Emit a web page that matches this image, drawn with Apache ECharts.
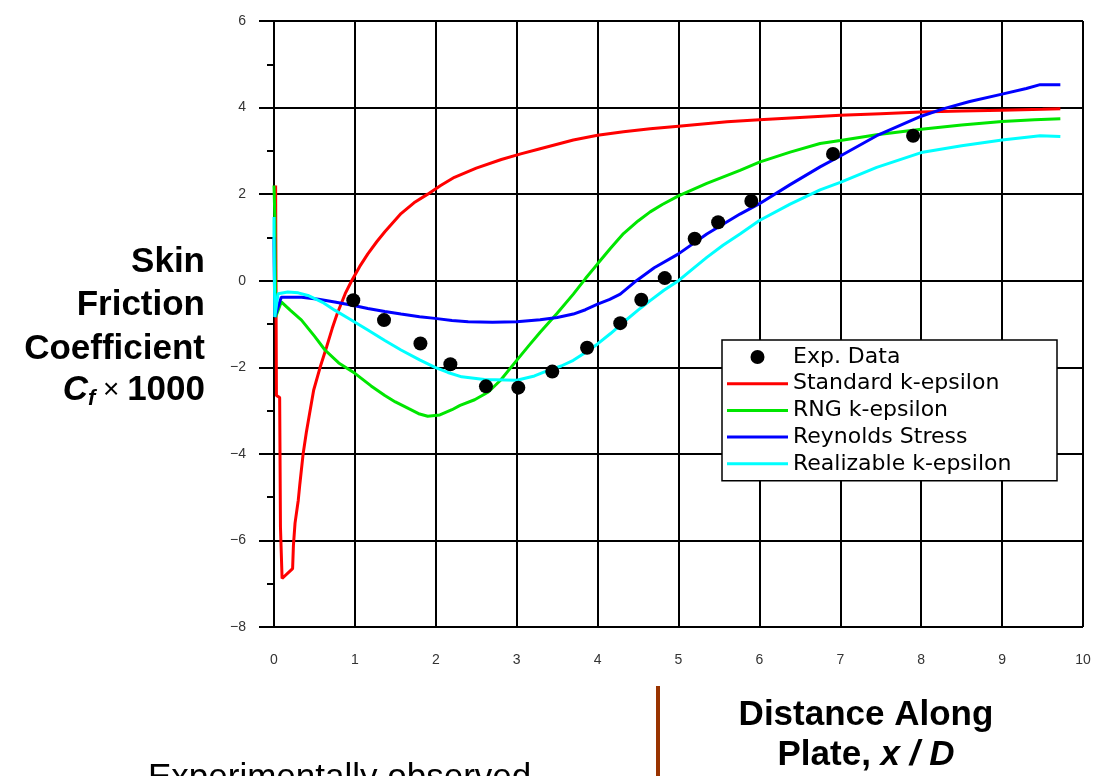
<!DOCTYPE html>
<html><head><meta charset="utf-8">
<script src="https://cdn.jsdelivr.net/npm/echarts@6/dist/echarts.min.js"></script>
<style>html,body{margin:0;padding:0;background:#fff;}#c{width:1094px;height:776px;}</style>
</head><body><div id="c"></div>
<script>
const seriesNames = ['Exp. Data', 'Standard k-epsilon', 'RNG k-epsilon', 'Reynolds Stress', 'Realizable k-epsilon'];
const seriesColors = ['#000000', '#ff0000', '#00e600', '#0000ff', '#00ffff'];
const xRange = [0, 10, 1];
const yRange = [-8, 6, 2];

const expData = [[0.98,-0.45],[1.36,-0.91],[1.81,-1.45],[2.18,-1.93],[2.62,-2.44],[3.02,-2.47],[3.44,-2.1],[3.87,-1.55],[4.28,-0.98],[4.54,-0.44],[4.83,0.06],[5.2,0.97],[5.49,1.35],[5.9,1.84],[6.91,2.93],[7.9,3.35]];

const standardKE = [[0.02,2.2],[0.03,-2.65],[0.07,-2.7],[0.08,-5.7],[0.1,-6.88],[0.23,-6.65],[0.24,-6.12],[0.26,-5.6],[0.3,-5.07],[0.32,-4.69],[0.36,-4.0],[0.4,-3.5],[0.44,-3.07],[0.49,-2.53],[0.57,-2.0],[0.65,-1.53],[0.72,-1.1],[0.78,-0.77],[0.88,-0.3],[0.96,0.0],[1.06,0.33],[1.16,0.62],[1.27,0.9],[1.37,1.13],[1.57,1.55],[1.73,1.8],[1.9,2.0],[2.06,2.2],[2.23,2.39],[2.5,2.6],[2.81,2.8],[3.05,2.93],[3.29,3.05],[3.7,3.25],[4.0,3.36],[4.32,3.44],[4.65,3.51],[5.0,3.57],[5.6,3.67],[6.0,3.72],[6.5,3.77],[7.0,3.82],[7.5,3.86],[8.0,3.9],[8.5,3.92],[9.0,3.94],[9.5,3.96],[9.72,3.97]];

const rngKE = [[0,2.2],[0.01,1.5],[0.02,-0.84],[0.09,-0.49],[0.2,-0.68],[0.34,-0.91],[0.5,-1.28],[0.63,-1.6],[0.8,-1.9],[1.0,-2.14],[1.2,-2.43],[1.37,-2.65],[1.5,-2.8],[1.66,-2.95],[1.8,-3.08],[1.9,-3.13],[2.05,-3.1],[2.2,-2.98],[2.3,-2.88],[2.48,-2.75],[2.65,-2.57],[2.8,-2.3],[3.0,-1.84],[3.15,-1.5],[3.29,-1.19],[3.5,-0.75],[3.7,-0.31],[3.85,0.05],[4.0,0.39],[4.16,0.75],[4.32,1.09],[4.5,1.38],[4.65,1.59],[4.8,1.76],[5.0,1.96],[5.35,2.25],[5.76,2.55],[6.0,2.74],[6.38,2.97],[6.75,3.17],[7.0,3.24],[7.45,3.37],[8.0,3.5],[8.5,3.6],[9.0,3.68],[9.4,3.72],[9.72,3.74]];

const reynoldsStress = [[0,1.0],[0.0,0.85],[0.01,-0.84],[0.09,-0.38],[0.34,-0.38],[0.55,-0.43],[0.75,-0.49],[1.0,-0.58],[1.16,-0.64],[1.37,-0.71],[1.57,-0.77],[1.8,-0.83],[1.99,-0.87],[2.2,-0.92],[2.4,-0.95],[2.7,-0.96],[3.0,-0.95],[3.29,-0.9],[3.5,-0.85],[3.7,-0.77],[3.85,-0.67],[4.0,-0.54],[4.15,-0.43],[4.28,-0.31],[4.48,0.0],[4.7,0.3],[5.0,0.62],[5.35,1.08],[5.76,1.54],[6.0,1.78],[6.38,2.22],[6.75,2.63],[7.0,2.88],[7.45,3.35],[8.0,3.8],[8.27,3.97],[8.6,4.14],[9.0,4.31],[9.3,4.44],[9.47,4.53],[9.72,4.53]];

const realizableKE = [[0,1.47],[0.0,1.0],[0.01,-0.84],[0.05,-0.3],[0.17,-0.26],[0.3,-0.28],[0.42,-0.34],[0.6,-0.5],[0.75,-0.68],[0.95,-0.9],[1.16,-1.14],[1.37,-1.38],[1.57,-1.6],[1.8,-1.83],[1.99,-2.0],[2.15,-2.12],[2.32,-2.22],[2.6,-2.28],[3.0,-2.3],[3.22,-2.2],[3.39,-2.07],[3.55,-1.97],[3.7,-1.84],[3.85,-1.66],[4.0,-1.46],[4.16,-1.22],[4.32,-0.96],[4.5,-0.68],[4.65,-0.46],[4.82,-0.22],[5.0,0.0],[5.18,0.28],[5.35,0.54],[5.55,0.82],[5.76,1.08],[6.0,1.39],[6.38,1.77],[6.75,2.1],[7.0,2.27],[7.45,2.62],[8.0,2.96],[8.5,3.12],[9.0,3.25],[9.47,3.35],[9.72,3.33]];

const yTitleLines = ['Skin', 'Friction', 'Coefficient'];
const xTitleLines = ['Distance Along', 'Plate, '];
const noteText = 'Experimentally observed';

const lineSets = [standardKE, rngKE, reynoldsStress, realizableKE];

const chart = echarts.init(document.getElementById('c'), null, {renderer: 'canvas'});
const SANS = "'Liberation Sans', Arial, sans-serif";

const series = [{
  name: seriesNames[0], type: 'scatter', data: expData, symbol: 'circle', symbolSize: 14,
  itemStyle: {color: seriesColors[0], opacity: 1}, z: 5
}];
lineSets.forEach((d, i) => {
  series.push({
    name: seriesNames[i + 1], type: 'line', data: d, symbol: 'none', showSymbol: false,
    smooth: false, clip: false,
    lineStyle: {color: seriesColors[i + 1], width: 3},
    itemStyle: {color: seriesColors[i + 1]}, z: 2 + i * 0.1
  });
});

const legendData = seriesNames.map((n, i) => ({
  name: n,
  icon: i === 0 ? 'circle' : 'path://M0 0H61V3H0Z'
}));

const graphic = [];
const yTitleY = [262, 305, 349];
yTitleLines.forEach((t, i) => graphic.push({
  type: 'text', x: 205, y: yTitleY[i],
  style: {text: t, textAlign: 'right', textVerticalAlign: 'middle', fontFamily: SANS, fontWeight: 'bold', fontSize: 35, fill: '#000'}
}));
graphic.push({
  type: 'text', x: 205, y: 390,
  style: {
    text: '{i|C}{s|f}{n| × }{b|1000}', textAlign: 'right', textVerticalAlign: 'middle', fill: '#000',
    fontFamily: SANS, fontSize: 35,
    rich: {
      i: {fontFamily: SANS, fontStyle: 'italic', fontWeight: 'bold', fontSize: 35, lineHeight: 40},
      s: {fontFamily: SANS, fontStyle: 'italic', fontWeight: 'bold', fontSize: 22, lineHeight: 40, verticalAlign: 'bottom'},
      n: {fontFamily: SANS, fontWeight: 'normal', fontSize: 28, lineHeight: 40},
      b: {fontFamily: SANS, fontWeight: 'bold', fontSize: 35, lineHeight: 40}
    }
  }
});
graphic.push({
  type: 'text', x: 866, y: 715,
  style: {text: xTitleLines[0], textAlign: 'center', textVerticalAlign: 'middle', fontFamily: SANS, fontWeight: 'bold', fontSize: 35, fill: '#000'}
});
graphic.push({
  type: 'text', x: 866, y: 755,
  style: {
    text: xTitleLines[1] + '{i|x / D}', textAlign: 'center', textVerticalAlign: 'middle', fill: '#000',
    fontFamily: SANS, fontWeight: 'bold', fontSize: 35,
    rich: {i: {fontFamily: SANS, fontStyle: 'italic', fontWeight: 'bold', fontSize: 35}}
  }
});
graphic.push({
  type: 'line', shape: {x1: 658, y1: 686, x2: 658, y2: 776},
  style: {stroke: '#993300', lineWidth: 4}
});
graphic.push({
  type: 'text', x: 148, y: 761,
  style: {text: noteText, textAlign: 'left', textVerticalAlign: 'top', fontFamily: SANS, fontWeight: 'normal', fontSize: 35, fill: '#000'}
});

const axisCommon = {
  axisLine: {show: true, lineStyle: {color: '#000', width: 2}},
  axisTick: {show: true, inside: false, lineStyle: {color: '#000', width: 2}},
  splitLine: {show: true, lineStyle: {color: '#000', width: 2}},
  axisLabel: {color: '#333', fontFamily: SANS, fontSize: 14}
};

const option = {
  animation: false,
  backgroundColor: '#fff',
  grid: {left: 274, right: 11, top: 21, bottom: 149, containLabel: false},
  xAxis: Object.assign({}, axisCommon, {
    type: 'value', min: xRange[0], max: xRange[1], interval: xRange[2],
    axisTick: Object.assign({}, axisCommon.axisTick, {length: 11}),
    axisLabel: Object.assign({}, axisCommon.axisLabel, {margin: 26})
  }),
  yAxis: Object.assign({}, axisCommon, {
    type: 'value', min: yRange[0], max: yRange[1], interval: yRange[2],
    axisTick: Object.assign({}, axisCommon.axisTick, {length: 15}),
    minorTick: {show: true, splitNumber: 2, length: 7, lineStyle: {color: '#000', width: 2}},
    axisLabel: Object.assign({}, axisCommon.axisLabel, {margin: 28, formatter: v => String(v).replace('-', '\u2212')})
  }),
  legend: {
    show: true, orient: 'vertical', left: 722, top: 340,
    data: legendData,
    itemWidth: 61, itemHeight: 14, itemGap: 4.7,
    padding: [6, 6, 6, 5],
    backgroundColor: '#fff', borderColor: '#000', borderWidth: 1.5, borderRadius: 0,
    textStyle: {color: '#000', fontFamily: "'DejaVu Sans', sans-serif", fontSize: 22, lineHeight: 20, width: 258},
    selectedMode: false
  },
  series: series,
  graphic: graphic
};
chart.setOption(option);
</script>
</body></html>
